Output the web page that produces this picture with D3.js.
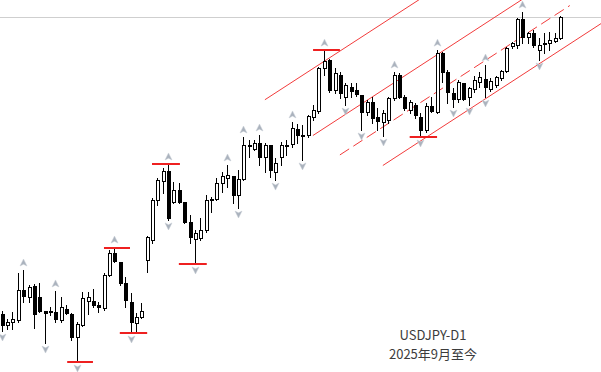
<!DOCTYPE html>
<html><head><meta charset="utf-8">
<script src="https://cdn.jsdelivr.net/npm/d3@7"></script>
<style>html,body{margin:0;padding:0;background:#fff;overflow:hidden}</style>
</head><body>
<svg id="chart" width="601" height="372"></svg>
<script>
// ---- data (USDJPY daily, index 0 = leftmost visible candle) ----
const opens = [147.42,146.99,147.11,147.19,148.38,148.10,148.54,148.10,147.54,147.54,147.50,147.19,147.62,147.42,146.51,146.99,147.95,147.95,147.78,147.66,148.97,149.85,149.49,148.65,147.91,147.07,147.30,149.57,150.36,151.95,152.70,153.10,151.87,152.35,151.87,151.08,150.40,150.44,150.76,151.99,151.99,152.63,152.82,152.90,152.15,152.78,154.13,153.97,154.21,153.66,154.13,153.06,153.66,154.13,154.17,154.77,154.53,154.53,155.25,155.48,157.19,157.51,156.32,156.91,156.04,156.44,156.32,156.12,155.44,155.84,155.25,155.05,155.13,156.00,156.91,156.04,155.52,155.72,155.25,154.73,155.68,155.44,157.79,157.03,156.20,155.96,156.59,156.04,156.36,156.63,156.75,156.36,156.52,156.79,157.07,158.06,158.10,159.14,158.42,158.58,157.90,158.14,158.18,158.26,158.38];
const highs = [147.54,147.22,147.50,149.05,149.17,148.58,148.62,148.65,147.56,147.70,148.34,148.10,147.78,147.46,147.11,148.30,148.30,148.42,147.91,149.05,149.96,150.08,149.49,148.89,148.26,147.46,147.87,150.52,152.03,152.82,153.22,153.38,152.66,152.63,151.87,151.35,150.76,151.24,152.15,152.07,152.82,153.06,153.34,152.90,153.14,154.45,154.33,154.33,154.53,154.21,154.13,153.62,154.25,154.33,155.05,154.97,154.93,155.32,155.72,157.23,157.90,157.55,157.19,157.03,156.59,156.59,156.59,156.12,155.92,156.04,155.60,155.52,156.04,157.03,156.99,156.12,155.92,155.80,155.40,155.80,156.04,157.90,157.83,157.11,156.40,156.71,156.59,156.44,156.87,157.03,157.31,156.79,156.87,157.11,158.02,158.22,159.18,159.41,158.62,158.70,158.38,158.58,158.62,158.58,159.25];
const lows = [146.75,146.83,146.83,147.11,147.91,147.91,146.87,147.50,146.27,147.38,147.11,147.11,147.42,146.39,145.52,146.95,147.42,147.70,147.50,147.58,148.93,149.49,148.58,147.70,146.67,146.75,147.26,149.09,150.24,151.75,152.23,151.16,151.83,151.83,151.04,150.24,149.41,150.36,150.68,151.47,151.95,152.27,152.47,151.83,151.63,152.74,153.66,153.94,153.34,153.06,152.86,152.74,153.34,153.74,154.05,154.21,153.54,154.45,155.13,155.40,156.91,156.24,156.20,156.00,155.72,156.04,156.08,154.73,155.32,155.01,154.73,154.49,155.01,155.92,156.00,155.52,155.40,155.21,154.45,154.65,155.44,155.40,156.63,155.80,155.64,155.84,155.92,155.72,156.24,156.44,156.04,156.28,156.44,156.71,157.03,157.98,157.98,158.18,158.18,158.02,157.51,157.79,157.90,158.22,158.34];
const closes = [146.99,147.11,147.22,148.38,148.14,148.50,147.42,147.54,147.46,147.50,147.22,147.70,147.46,146.51,147.03,148.06,148.10,147.78,147.70,148.97,149.85,149.53,148.65,147.99,147.11,147.30,147.54,150.48,151.95,152.74,153.10,151.24,152.35,151.87,151.08,150.48,150.64,150.76,151.95,151.95,152.63,152.90,152.94,152.15,152.78,154.13,154.09,154.21,153.66,154.13,153.14,153.42,154.13,154.09,154.81,154.53,154.49,155.28,155.52,157.19,157.47,156.32,156.99,156.20,156.52,156.28,156.16,155.44,155.84,155.21,155.09,155.40,156.00,156.91,156.04,155.60,155.84,155.32,154.73,155.68,155.48,157.79,157.03,156.24,155.96,156.63,155.96,156.40,156.71,156.83,156.44,156.67,156.83,157.07,157.98,158.18,159.14,158.42,158.58,158.10,158.10,158.18,158.30,158.38,159.22];
const upFractals = [4,10,21,31,42,45,48,54,60,73,81,90,97];
const downFractals = [0,8,14,24,31,36,44,51,56,64,67,71,78,84,87,90,100];
// horizontal swing-level marks: start index, end index, price
const levelStart = [12.2,19.05,22.0,28.0,33.0,58.0,76.0];
const levelEnd   = [17.0,23.9,27.1,33.2,38.2,63.0,81.1];
const levelPrice = [145.52,150.04,146.67,153.38,149.41,157.90,154.45];
// rising channel lines
const channelStartIdx   = [49.03,57.97,63.0,71.0];
const channelStartPrice = [155.93,154.51,153.74,153.32];
const channelEndIdx     = [79.76,98.38,105.83,113.28];
const channelEndPrice   = [160.18,160.11,159.67,159.18];
const channelDashed     = [false,false,true,false];
const titleLines = ["USDJPY-D1","2025年9月至今"];

// ---- drawing ----
const W = 601, H = 372;
const svg = d3.select("#chart");
const x = d3.scaleLinear().domain([0, 104]).range([1.7, 560]);
const y = d3.scaleLinear().domain([145.1216, 159.89]).range([H, 0]);

const candles = opens.map((o,i)=>({i,o,h:highs[i],l:lows[i],c:closes[i]}));

// bid line at last close
const lastY = Math.round(y(closes[closes.length-1])) + 0.5;
svg.append("line").attr("x1",0).attr("x2",W).attr("y1",lastY).attr("y2",lastY)
  .attr("stroke","#cfcfcf").attr("stroke-width",1);

// channel lines
const chg = svg.append("g");
channelStartIdx.forEach((s,k)=>{
  chg.append("line")
    .attr("x1",x(s)).attr("y1",y(channelStartPrice[k]))
    .attr("x2",x(channelEndIdx[k])).attr("y2",y(channelEndPrice[k]))
    .attr("stroke","#f23b3b").attr("stroke-width",1)
    .attr("stroke-dasharray", channelDashed[k] ? "11,5" : null);
});

// candles
const cg = svg.append("g");
candles.forEach(d=>{
  const cx = Math.round(x(d.i));
  cg.append("line").attr("x1",cx+0.5).attr("x2",cx+0.5)
    .attr("y1",Math.round(y(d.h))).attr("y2",Math.round(y(d.l))+1)
    .attr("stroke","#000").attr("stroke-width",1).attr("shape-rendering","crispEdges");
  const top = Math.round(y(Math.max(d.o,d.c))) + 0.5;
  const bot = Math.round(y(Math.min(d.o,d.c))) + 0.5;
  cg.append("rect").attr("x",cx-0.5).attr("y",top).attr("width",3)
    .attr("height",Math.max(1,bot-top))
    .attr("fill", d.c >= d.o ? "#fff" : "#000")
    .attr("stroke","#000").attr("stroke-width",1);
});

// level marks
const lg = svg.append("g");
levelPrice.forEach((p,k)=>{
  const yy = Math.round(y(p));
  lg.append("line").attr("x1",x(levelStart[k])).attr("x2",x(levelEnd[k]))
    .attr("y1",yy).attr("y2",yy).attr("stroke","#ee2020").attr("stroke-width",2);
});

// fractal arrows
const fg = svg.append("g");
upFractals.forEach(i=>{
  const cx = Math.round(x(i))+0.5, cy = y(highs[i]) - 7;
  fg.append("path").attr("d",`M${cx},${cy-4} L${cx+3.5},${cy+3} L${cx},${cy+1.2} L${cx-3.5},${cy+3} Z`)
    .attr("fill","#aab2bd").attr("stroke","#c6ccd4").attr("stroke-width",0.5);
});
downFractals.forEach(i=>{
  const cx = Math.round(x(i))+0.5, cy = y(lows[i]) + 6;
  fg.append("path").attr("d",`M${cx},${cy+4} L${cx+3.5},${cy-3} L${cx},${cy-1.2} L${cx-3.5},${cy-3} Z`)
    .attr("fill","#aab2bd").attr("stroke","#c6ccd4").attr("stroke-width",0.5);
});

// title
const tg = svg.append("g").attr("font-family","'Noto Sans CJK SC','Noto Sans',sans-serif")
  .attr("fill","#3c3c3c").attr("font-size",13).attr("text-anchor","middle");
tg.append("text").attr("x",433).attr("y",340).text(titleLines[0]);
tg.append("text").attr("x",433).attr("y",359).text(titleLines[1]);
</script>
</body></html>
